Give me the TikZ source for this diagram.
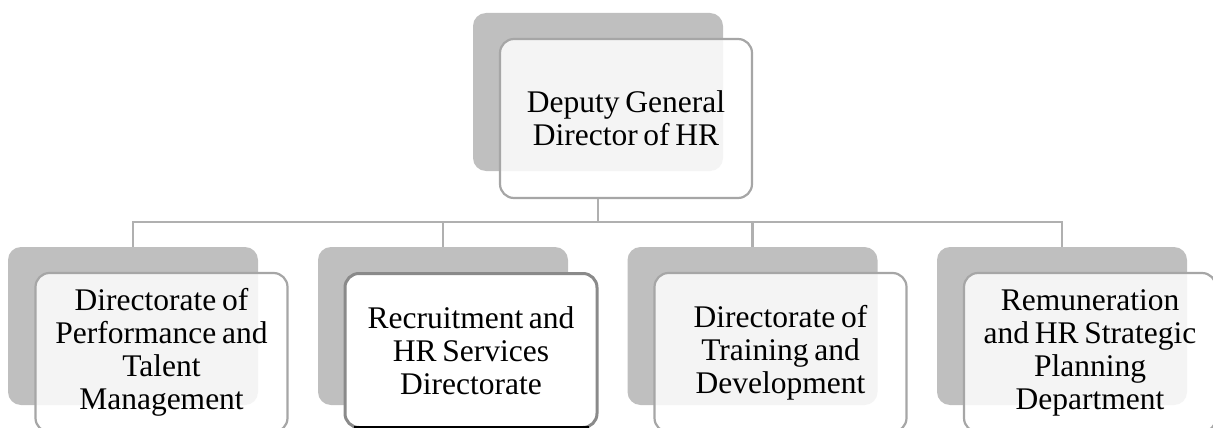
\documentclass[tikz,border=0pt]{standalone}
\usepackage{fontspec}
\setmainfont{Liberation Serif}
\begin{document}
\begin{tikzpicture}[x=1pt,y=-1pt,
  backbox/.style={draw=none, fill=shadegray, rounded corners=13pt,
    minimum width=250pt, minimum height=158pt, inner sep=0pt},
  frontbox/.style={draw=rimgray, line width=2.2pt, fill=white, fill opacity=0.83,
    text opacity=1, rounded corners=14pt, minimum width=252pt, minimum height=159pt,
    inner sep=0pt, align=center, text width=250pt,
    font=\fontsize{31.5pt}{33pt}\selectfont,
    execute at begin node={\spaceskip=0.18em\relax}},
  activebox/.style={frontbox, draw=darkrim, line width=3pt, fill opacity=1},
  link/.style={draw=linkgray, line width=2.6pt}
]
\definecolor{shadegray}{HTML}{BFBFBF}
\definecolor{rimgray}{HTML}{A6A6A6}
\definecolor{darkrim}{HTML}{8A8A8A}
\definecolor{linkgray}{HTML}{B0B0B0}
\useasboundingbox (0,0) rectangle (1213,428);
\clip (0,0) rectangle (1213,428);

% top level
\node[backbox] (tb) at (598,92) {};
\node[frontbox] (tf) at (626,118.5) {Deputy General\\Director of HR};

% second level: back panels
\node[backbox] (b1) at (133,326) {};
\node[backbox] (b2) at (443,326) {};
\node[backbox] (b3) at (752.5,326) {};
\node[backbox] (b4) at (1062,326) {};

% second level: front panels
\node[frontbox] (f1) at (161.5,352.5) {Directorate of\\Performance and\\Talent\\Management};
\node[activebox, minimum height=154pt] (f2) at (471,350.5) {Recruitment and\\HR Services\\Directorate};
\node[frontbox] (f3) at (780.5,352.5) {Directorate of\\Training and\\Development};
\node[frontbox] (f4) at (1090,352.5) {Remuneration\\and HR Strategic\\Planning\\Department};
\draw[line width=3.5pt, black] ([xshift=10pt, yshift=1.5pt]f2.south west) -- ([xshift=-10pt, yshift=1.5pt]f2.south east);

% connectors
\coordinate (bus) at (598,222);
\draw[link] (tf.south -| tb.center) -- (bus);
\draw[link] (bus) -| (b1.north);
\draw[link] (bus) -| (b2.north);
\draw[link] (bus) -| (b3.north);
\draw[link] (bus) -| (b4.north);
\end{tikzpicture}
\end{document}
